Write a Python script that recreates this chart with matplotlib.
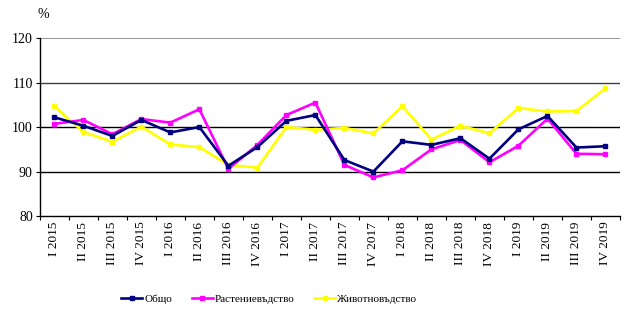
import matplotlib.pyplot as plt
import numpy as np

plt.rcParams['font.family'] = ['Liberation Serif', 'DejaVu Serif']

quarters = ["I 2015", "II 2015", "III 2015", "IV 2015",
            "I 2016", "II 2016", "III 2016", "IV 2016",
            "I 2017", "II 2017", "III 2017", "IV 2017",
            "I 2018", "II 2018", "III 2018", "IV 2018",
            "I 2019", "II 2019", "III 2019", "IV 2019"]

obshto = [102.2, 100.3, 98.0, 101.6, 98.8, 100.0, 91.3, 95.5, 101.4, 102.7,
          92.6, 90.0, 96.8, 96.0, 97.5, 92.9, 99.5, 102.5, 95.4, 95.7]
rastenievadstvo = [100.7, 101.6, 98.4, 101.8, 101.0, 104.0, 90.6, 96.0, 102.7, 105.5,
                   91.5, 88.7, 90.3, 95.0, 97.1, 92.1, 95.8, 101.9, 94.0, 93.9]
zhivotnovadstvo = [104.7, 98.9, 96.7, 100.1, 96.1, 95.5, 91.5, 90.9, 100.0, 99.4,
                   99.8, 98.6, 104.7, 97.2, 100.3, 98.6, 104.3, 103.5, 103.6, 108.7]

fig = plt.figure(figsize=(6.32, 3.25), dpi=100)
ax = fig.add_axes([0.063, 0.335, 0.918, 0.548])

x = np.arange(len(quarters))
ax.plot(x, obshto, color="#000080", lw=1.9, marker="s", ms=3.5, label="Общо", zorder=5)
ax.plot(x, rastenievadstvo, color="#FF00FF", lw=1.9, marker="s", ms=3.5, label="Растениевъдство", zorder=4)
ax.plot(x, zhivotnovadstvo, color="#FFFF00", lw=1.9, marker="s", ms=3.5, label="Животновъдство", zorder=3)

# horizontal reference lines
ax.axhline(120, color="#808080", lw=1.2, zorder=1)
ax.axhline(110, color="#404040", lw=1.0, zorder=1)
ax.axhline(100, color="black", lw=1.0, zorder=1)
ax.axhline(90, color="black", lw=1.0, zorder=1)

ax.set_xlim(-0.5, len(quarters) - 0.5)
ax.set_ylim(80, 120)
ax.set_yticks([80, 90, 100, 110, 120])
ax.tick_params(axis="y", labelsize=10, length=3, width=0.8, pad=2)

ax.set_xticks(x)
ax.set_xticklabels(quarters, rotation=90, fontsize=9.5)
ax.tick_params(axis="x", length=0, pad=4)
ax.set_xticks(np.arange(len(quarters) + 1) - 0.5, minor=True)
ax.tick_params(axis="x", which="minor", length=3, width=0.8)

for s in ["top", "right"]:
    ax.spines[s].set_visible(False)
ax.spines["left"].set_linewidth(1.0)
ax.spines["bottom"].set_linewidth(1.0)

fig.text(0.059, 0.955, "%", fontsize=10, ha="left", va="center")

fig.legend(loc="center", bbox_to_anchor=(0.426, 0.08), ncol=3, frameon=False,
           fontsize=8, handlelength=1.9, handletextpad=0.15, columnspacing=1.8,
           borderpad=0.2)

fig.savefig("out.png", dpi=100)
